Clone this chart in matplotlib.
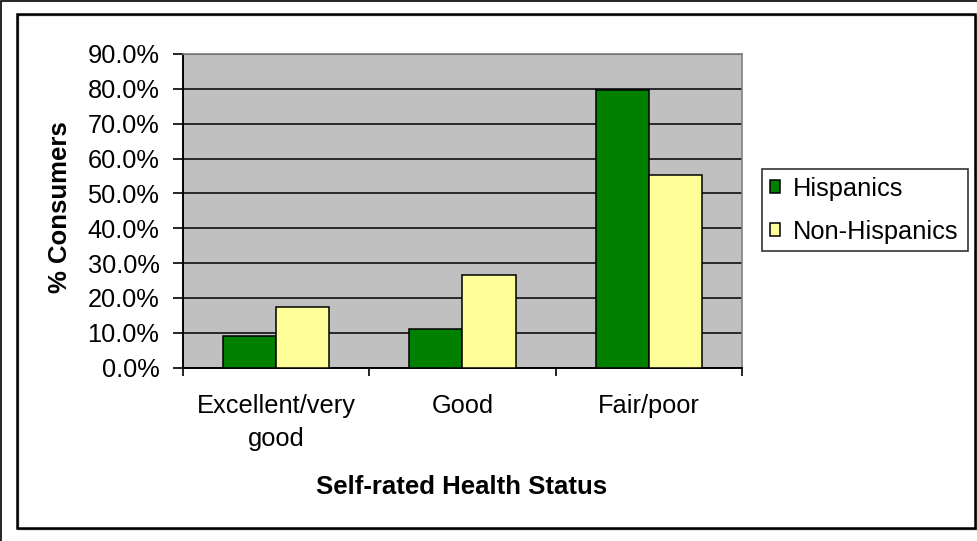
import matplotlib
matplotlib.use("Agg")
import matplotlib.pyplot as plt
import numpy as np
from matplotlib.patches import Rectangle
from matplotlib.ticker import FuncFormatter, MultipleLocator

plt.rcParams['font.family'] = ['Liberation Sans', 'DejaVu Sans']

# data
categories = ['Excellent/very\ngood', 'Good', 'Fair/poor']
hispanics = [9.2, 11.0, 79.8]
non_hispanics = [17.3, 26.5, 55.2]
series_names = ['Hispanics', 'Non-Hispanics']

W, H = 978, 541
fig = plt.figure(figsize=(W / 100, H / 100), dpi=100)

# outer and inner chart frames (figure pixel coords)
def px_rect(x0, y0, x1, y1, lw, color='black'):
    r = Rectangle((x0 / W, 1 - y1 / H), (x1 - x0) / W, (y1 - y0) / H,
                  transform=fig.transFigure, fill=False, lw=lw, edgecolor=color)
    fig.patches.append(r)

px_rect(1, 1, 990, 560, 1.2)
px_rect(18, 15, 976, 529, 1.0, color='#808080')
px_rect(17, 14, 975, 528, 1.8)

ax = fig.add_axes([183 / W, 1 - 367.7 / H, (742 - 183) / W, (367.7 - 54) / H])
ax.set_facecolor('#C0C0C0')

x = np.arange(len(categories))
width = 1 / 3.5
ax.bar(x - width / 2, hispanics, width, color='#008000', edgecolor='black', lw=1.1,
       label=series_names[0], zorder=3)
ax.bar(x + width / 2, non_hispanics, width, color='#FFFF99', edgecolor='black', lw=1.1,
       label=series_names[1], zorder=3)

ax.set_xlim(-0.5, 2.5)
ax.set_ylim(0, 90)
ax.yaxis.set_major_locator(MultipleLocator(10))
ax.yaxis.set_major_formatter(FuncFormatter(lambda v, p: f"{v:.1f}%"))
ax.grid(axis='y', color='black', lw=1.1, zorder=1)

ax.set_xticks(x)
ax.set_xticklabels(categories, fontsize=18.3, linespacing=1.45)
ax.set_xticks([-0.5, 0.5, 1.5, 2.5], minor=True)
ax.tick_params(axis='x', which='major', length=0, pad=19)
ax.tick_params(axis='x', which='minor', length=6, width=1.2, direction='out')
ax.tick_params(axis='y', length=7, width=1.2, direction='out', labelsize=18.3, pad=10)

for s in ['top', 'right']:
    ax.spines[s].set_color('#808080')
    ax.spines[s].set_linewidth(1.2)
for s in ['left', 'bottom']:
    ax.spines[s].set_color('black')
    ax.spines[s].set_linewidth(1.4)

ax.set_ylabel('% Consumers', fontsize=18.5, fontweight='bold')
ax.yaxis.set_label_coords(72 / W, 1 - 207 / H, transform=fig.transFigure)
ax.set_xlabel('Self-rated Health Status', fontsize=18.5, fontweight='bold')
ax.xaxis.set_label_coords(462 / W, 1 - 475 / H, transform=fig.transFigure)

leg = ax.legend(loc='upper left', bbox_to_anchor=(762 / W, 1 - 251 / H, (968 - 762) / W, (251 - 169) / H),
                bbox_transform=fig.transFigure, mode='expand', fontsize=18.3, frameon=True,
                fancybox=False, handlelength=0.42, handleheight=0.42, handletextpad=0.5,
                borderpad=0.3, labelspacing=0.75, borderaxespad=0)
leg.get_frame().set_edgecolor('black')
leg.get_frame().set_linewidth(1.2)

fig.savefig('out.png', dpi=100)
